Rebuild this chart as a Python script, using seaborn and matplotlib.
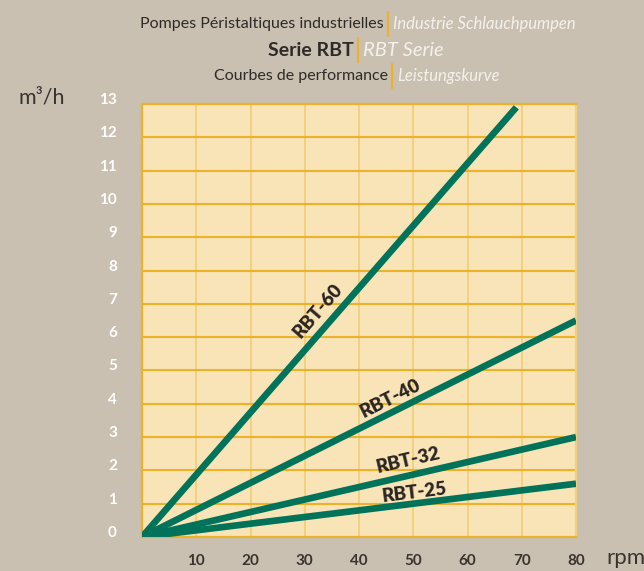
import pandas as pd
import matplotlib.pyplot as plt
import seaborn as sns
from matplotlib.lines import Line2D

sns.set_theme(style="white")
plt.rcParams["font.family"] = ["Lato", "DejaVu Sans"]

# -----------------------------
# DATA
# -----------------------------
models = ["RBT-25", "RBT-32", "RBT-40", "RBT-60"]
rpm_end = [80, 80, 80, 69]
flow_end = [1.6, 3.0, 6.5, 12.9]

x_ticks = [10, 20, 30, 40, 50, 60, 70, 80]
y_ticks = list(range(0, 14))

# label anchors along each curve (rpm, m3/h) and angle on screen
label_x = [50.3, 49.0, 45.7, 32.4]
label_y = [1.32, 2.31, 4.17, 6.8]
label_rot = [7, 13, 26.6, 49]

rows = []
for m, r, f in zip(models, rpm_end, flow_end):
    rows.append({"model": m, "rpm": 0, "flow": 0})
    rows.append({"model": m, "rpm": r, "flow": f})
df = pd.DataFrame(rows)

# -----------------------------
# COLOURS
# -----------------------------
bg = "#c9c0b1"
face = "#f8e4b6"
green = "#00735a"
gold = "#ecb32a"
gold_light = "#f2d07c"
dark = "#3a3431"

fig = plt.figure(figsize=(6.44, 5.71), dpi=100, facecolor=bg)
ax = fig.add_axes([142 / 644, 34 / 571, 434 / 644, 433 / 571])
ax.set_facecolor(face)

sns.lineplot(data=df, x="rpm", y="flow", hue="model",
             palette=[green] * len(models), linewidth=4.8,
             legend=False, ax=ax, solid_capstyle="butt", zorder=5)

ax.set_xlim(0, 80)
ax.set_ylim(0, 13)

# grid
for v in x_ticks[:-1]:
    ax.axvline(v, color=gold_light, lw=1.4, zorder=1)
for v in y_ticks[1:-1]:
    ax.axhline(v, color=gold, lw=1.5, zorder=1)

for side in ["top", "bottom", "left"]:
    ax.spines[side].set_color(gold)
    ax.spines[side].set_linewidth(1.6)
ax.spines["right"].set_color(gold_light)
ax.spines["right"].set_linewidth(1.6)

ax.set_xticks(x_ticks)
ax.set_xticklabels([str(v) for v in x_ticks], fontsize=11,
                   fontweight="bold", color=dark)
ax.set_yticks(y_ticks)
ax.set_yticklabels([str(v) for v in y_ticks], fontsize=11,
                   fontweight="bold", color="white")
for t in ax.get_yticklabels():
    t.set_verticalalignment("baseline")
ax.tick_params(axis="x", length=0, pad=12)
ax.tick_params(axis="y", length=0, pad=18)
ax.set_xlabel("")
ax.set_ylabel("")

# curve labels
for m, lx, ly, rot in zip(models, label_x, label_y, label_rot):
    ax.text(lx, ly, m, rotation=rot, rotation_mode="anchor",
            ha="center", va="center", fontsize=13.5, fontweight="heavy",
            color="#2b2523", zorder=6)

# axis units
fig.text(42 / 644, 1 - 97 / 571, "m³/h", fontsize=15.5, color=dark,
         ha="center", va="center")
fig.text(606 / 644, 1 - 558 / 571, "rpm", fontsize=16, color=dark,
         ha="left", va="center")

# -----------------------------
# TITLES
# -----------------------------
titles = [
    (388, 24, "Pompes Péristaltiques industrielles", "Industrie Schlauchpumpen", 11.5, "normal"),
    (358, 50, "Serie RBT", "RBT Serie", 14, "bold"),
    (392, 76, "Courbes de performance", "Leistungskurve", 11.5, "normal"),
]
for sx, sy, left, right, fs, fw in titles:
    yy = 1 - sy / 571
    fig.text((sx - 4) / 644, yy, left, ha="right", va="center",
             fontsize=fs, fontweight=fw, color="#2e2a28")
    fig.text((sx + 5) / 644, yy, right, ha="left", va="center",
             fontsize=fs + 0.5, style="italic", color="#f4f1ec")
    fig.add_artist(Line2D([sx / 644, sx / 644],
                          [yy - 12 / 571, yy + 12 / 571],
                          color=gold, lw=1.6, transform=fig.transFigure))

fig.savefig("out.png", dpi=100, facecolor=bg)
